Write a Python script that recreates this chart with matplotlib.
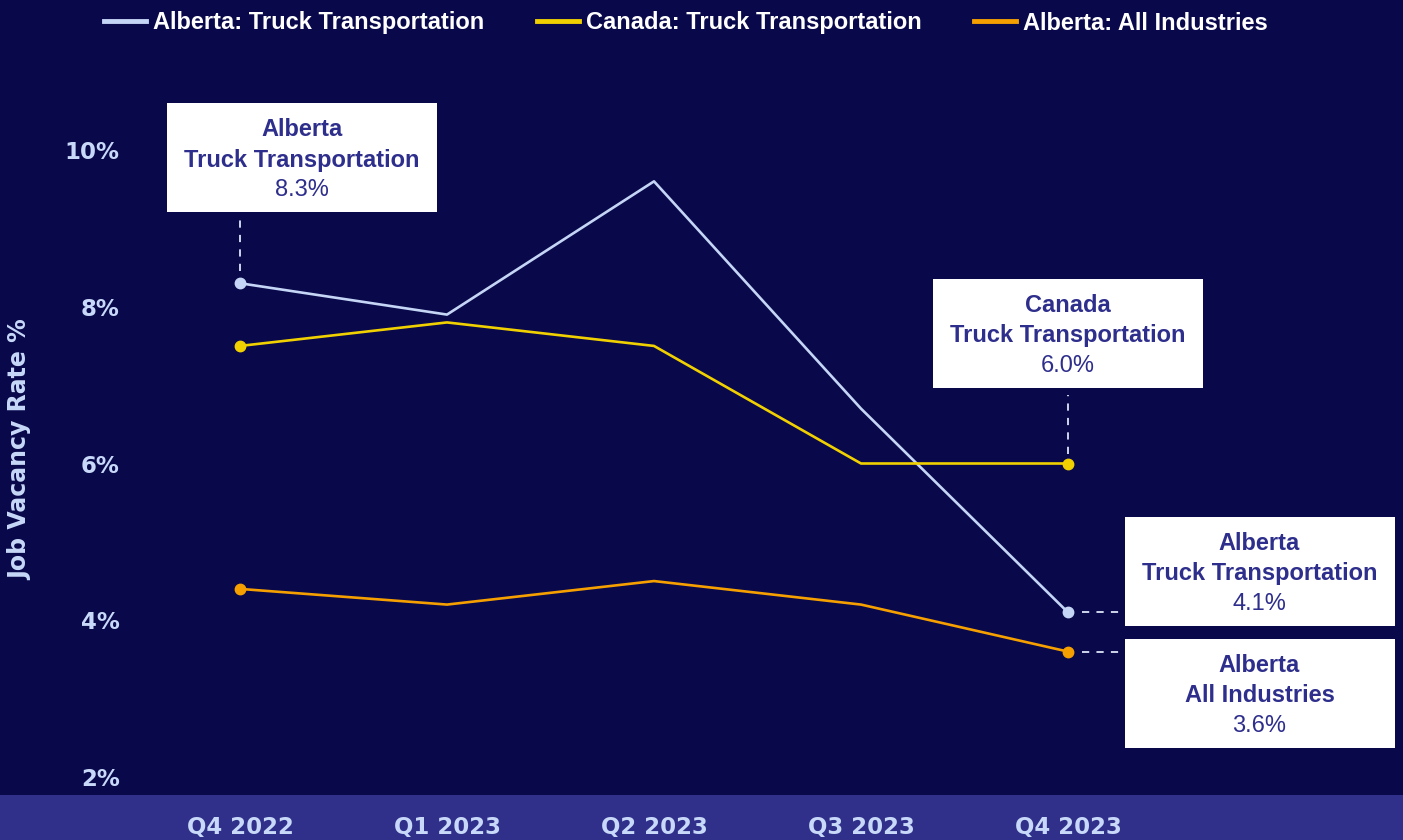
import matplotlib
matplotlib.use("Agg")
from matplotlib import pyplot as plt
from matplotlib.patches import Rectangle
import numpy as np

# data
quarters = ["Q4 2022", "Q1 2023", "Q2 2023", "Q3 2023", "Q4 2023"]
alberta_truck = [8.3, 7.9, 9.6, 6.7, 4.1]
canada_truck = [7.5, 7.8, 7.5, 6.0, 6.0]
alberta_all = [4.4, 4.2, 4.5, 4.2, 3.6]
series_names = ["Alberta: Truck Transportation", "Canada: Truck Transportation", "Alberta: All Industries"]
y_ticks = [2, 4, 6, 8, 10]

BG = "#08084b"
BAND = "#30308a"
TICK = "#c8d8f8"
BOXTXT = "#2e2e8c"
colors = ["#c5d5f5", "#f0d000", "#f5a000"]

W, H = 1403, 840
fig = plt.figure(figsize=(W / 100, H / 100), dpi=100, facecolor=BG)
# bottom band, kept under the axes so the tick labels stay visible
fig.patches.append(Rectangle((0, 0), 1, 45 / H, transform=fig.transFigure,
                             facecolor=BAND, edgecolor="none", zorder=-5))

ax_l, ax_t, ax_b = 135, 60, 795
ax = fig.add_axes([ax_l / W, (H - ax_b) / H, (W - ax_l) / W, (ax_b - ax_t) / H])
ax.set_facecolor("none")

def px_x(p):
    return (p - 240) / 207.0

def px_y(p):
    return 10 - (p - 150) / 78.375

ax.set_xlim(px_x(ax_l), px_x(W))
ax.set_ylim(px_y(ax_b), px_y(ax_t))

x = np.arange(len(quarters))
all_series = [alberta_truck, canada_truck, alberta_all]
for vals, c, name in zip(all_series, colors, series_names):
    ax.plot(x, vals, color=c, lw=1.9, marker="o", markersize=7.5,
            markevery=[0, len(vals) - 1], label=name, zorder=3)

for s in ax.spines.values():
    s.set_visible(False)

heavy = dict(family="DejaVu Sans", weight="bold")
bold = dict(family=["Liberation Sans", "DejaVu Sans"], weight="bold")
ax.set_yticks(y_ticks)
ax.set_yticklabels([f"{v}%" for v in y_ticks], color=TICK, fontsize=16.5, **heavy)
ax.set_xticks(x)
ax.set_xticklabels(quarters, color=TICK, fontsize=16.5, **heavy)
ax.tick_params(axis="y", length=0, pad=11)
ax.tick_params(axis="x", length=0, pad=15)

fig.text(20 / W, 1 - 450 / H, "Job Vacancy Rate %", rotation=90, color=TICK,
         fontsize=17, ha="center", va="center", **heavy)

# legend
leg = fig.legend(handles=[plt.Line2D([], [], color=c, lw=3.5) for c in colors],
                 labels=series_names, loc="center", ncol=3, frameon=False,
                 bbox_to_anchor=(686 / W, 1 - 23 / H),
                 prop=dict(family=["Liberation Sans", "DejaVu Sans"], weight="bold", size=17),
                 handlelength=1.8, handletextpad=0.3, columnspacing=2.2)
for t in leg.get_texts():
    t.set_color("white")

# annotation boxes: (center x px, center y px, title lines, value)
boxes = [
    (302, 157.5, ["Alberta", "Truck Transportation"], alberta_truck[0]),
    (1067.5, 333, ["Canada", "Truck Transportation"], canada_truck[-1]),
    (1259.5, 571, ["Alberta", "Truck Transportation"], alberta_truck[-1]),
    (1259.5, 693, ["Alberta", "All Industries"], alberta_all[-1]),
]
bw, bh = 270 / 207.0, 109 / 78.375
for cx, cy, title, val in boxes:
    xc, yc = px_x(cx), px_y(cy)
    ax.add_patch(Rectangle((xc - bw / 2, yc - bh / 2), bw, bh, facecolor="white",
                           edgecolor="none", zorder=4))
    ax.text(xc, px_y(cy - 27.5), title[0], ha="center", va="center", color=BOXTXT,
            fontsize=17, zorder=5, **bold)
    ax.text(xc, px_y(cy + 2.5), title[1], ha="center", va="center", color=BOXTXT,
            fontsize=17, zorder=5, **bold)
    ax.text(xc, px_y(cy + 32.5), f"{val:.1f}%", ha="center", va="center", color=BOXTXT,
            fontsize=17, family=["Liberation Sans", "DejaVu Sans"], zorder=5)

dash = dict(color="#dde6f8", lw=1.3, ls=(0, (4, 4)), zorder=2)
ax.plot([0, 0], [alberta_truck[0] + 0.15, px_y(218)], **dash)
ax.plot([4, 4], [canada_truck[-1] + 0.12, px_y(395)], **dash)
ax.plot([px_x(1082), px_x(1125)], [alberta_truck[-1]] * 2, **dash)
ax.plot([px_x(1082), px_x(1125)], [alberta_all[-1]] * 2, **dash)

fig.savefig("out.png", dpi=100, facecolor=BG)
